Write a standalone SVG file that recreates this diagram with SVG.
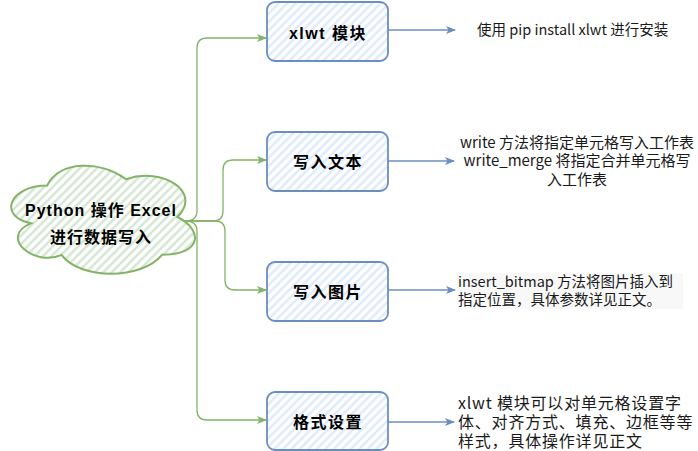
<svg xmlns="http://www.w3.org/2000/svg" width="698" height="451" viewBox="0 0 698 451">
<defs>
<pattern id="hb" patternUnits="userSpaceOnUse" width="6" height="6" patternTransform="rotate(45)">
<rect width="6" height="6" fill="#ffffff"/>
<line x1="1.5" y1="0" x2="1.5" y2="6" stroke="#dae8fc" stroke-width="2.2"/>
</pattern>
<pattern id="hg" patternUnits="userSpaceOnUse" width="6" height="6" patternTransform="rotate(45)">
<rect width="6" height="6" fill="#ffffff"/>
<line x1="1.5" y1="0" x2="1.5" y2="6" stroke="#cfe3cd" stroke-width="2.2"/>
</pattern>
<marker id="ag" viewBox="0 0 10 8" refX="9" refY="4" markerWidth="10" markerHeight="8" markerUnits="userSpaceOnUse" orient="auto">
<path d="M0,0 L10,4 L0,8 L2.5,4 Z" fill="#82b366"/>
</marker>
<marker id="ab" viewBox="0 0 10 8" refX="9" refY="4" markerWidth="10" markerHeight="8" markerUnits="userSpaceOnUse" orient="auto">
<path d="M0,0 L10,4 L0,8 L2.5,4 Z" fill="#6c8ebf"/>
</marker>
</defs>
<style>
.box{fill:url(#hb);stroke:#6c8ebf;stroke-width:1.8}
.cloud{fill:url(#hg);stroke:#82b366;stroke-width:2}
.gl{fill:none;stroke:#82b366;stroke-width:1.3;marker-end:url(#ag)}
.bl{fill:none;stroke:#6c8ebf;stroke-width:1.3;marker-end:url(#ab)}
.nt{font-family:"Liberation Sans","Noto Sans CJK SC",sans-serif;font-weight:bold;font-size:16px;fill:#000;text-anchor:middle;letter-spacing:1.5px}
.ct{font-family:"Liberation Sans","Noto Sans CJK SC",sans-serif;font-weight:bold;font-size:16px;fill:#000;text-anchor:middle;letter-spacing:1px}
.d{font-family:"Noto Sans CJK SC","Liberation Sans",sans-serif;fill:#1a1a1a}
</style>
<g id="connectors">
<path class="gl" d="M185,221 Q197,221 197,211 L197,48 Q197,38 207,38 L266,38"/>
<path class="gl" d="M185,221 L213,221 Q223,221 223,211 L223,170 Q223,160 233,160 L266,160"/>
<path class="gl" d="M185,221 L215,221 Q225,221 225,231 L225,280 Q225,290 235,290 L266,290"/>
<path class="gl" d="M185,221 Q197,221 197,231 L197,410 Q197,420 207,420 L266,420"/>
<path class="bl" d="M388,30 L455,30"/>
<path class="bl" d="M388,161 L454,161"/>
<path class="bl" d="M388,290 L455,290"/>
<path class="bl" d="M388,422 L454,422"/>
</g>
<g id="root">
<path class="cloud" d="M47.25,185.5 C8.25,185.5 -2,217 30.8,223.3 C-2,237.2 34.9,267.4 61.55,254.8 C80,280 141.5,280 162,254.8 C203,254.8 203,229.6 177.4,217 C203,191.8 162,166.6 126.1,179.2 C100.5,160.3 59.5,160.3 47.25,185.5 Z"/>
<text class="ct" x="101" y="216">Python 操作 Excel</text>
<text class="ct" x="101" y="243">进行数据写入</text>
</g>
<g id="n1">
<rect class="box" x="267" y="2" width="121" height="59" rx="8"/>
<text class="nt" x="328" y="39">xlwt 模块</text>
</g>
<g id="n2">
<rect class="box" x="267" y="132" width="121" height="59" rx="8"/>
<text class="nt" x="328" y="168">写入文本</text>
</g>
<g id="n3">
<rect class="box" x="267" y="262" width="121" height="59" rx="8"/>
<text class="nt" x="328" y="298">写入图片</text>
</g>
<g id="n4">
<rect class="box" x="267" y="392" width="121" height="58" rx="8"/>
<text class="nt" x="328" y="428">格式设置</text>
</g>
<g id="d1">
<text class="d" x="477" y="35" font-size="14.5">使用 pip install xlwt 进行安装</text>
</g>
<g id="d2">
<text class="d" x="577" y="148" font-size="15" text-anchor="middle">write 方法将指定单元格写入工作表</text>
<text class="d" x="577" y="166" font-size="15" text-anchor="middle">write_merge 将指定合并单元格写</text>
<text class="d" x="577" y="185" font-size="15" text-anchor="middle">入工作表</text>
</g>
<g id="d3">
<rect x="457" y="273" width="226" height="36" fill="#f8f8f9"/>
<text class="d" x="458" y="287" font-size="14.5">insert_bitmap 方法将图片插入到</text>
<text class="d" x="458" y="305" font-size="14.5">指定位置，具体参数详见正文。</text>
</g>
<g id="d4">
<text class="d" x="458" y="409" font-size="16" fill="#222" letter-spacing="0.8">xlwt 模块可以对单元格设置字</text>
<text class="d" x="458" y="428" font-size="16" fill="#222" letter-spacing="0.8">体、对齐方式、填充、边框等等</text>
<text class="d" x="458" y="447" font-size="16" fill="#222" letter-spacing="0.8">样式，具体操作详见正文</text>
</g>
</svg>
